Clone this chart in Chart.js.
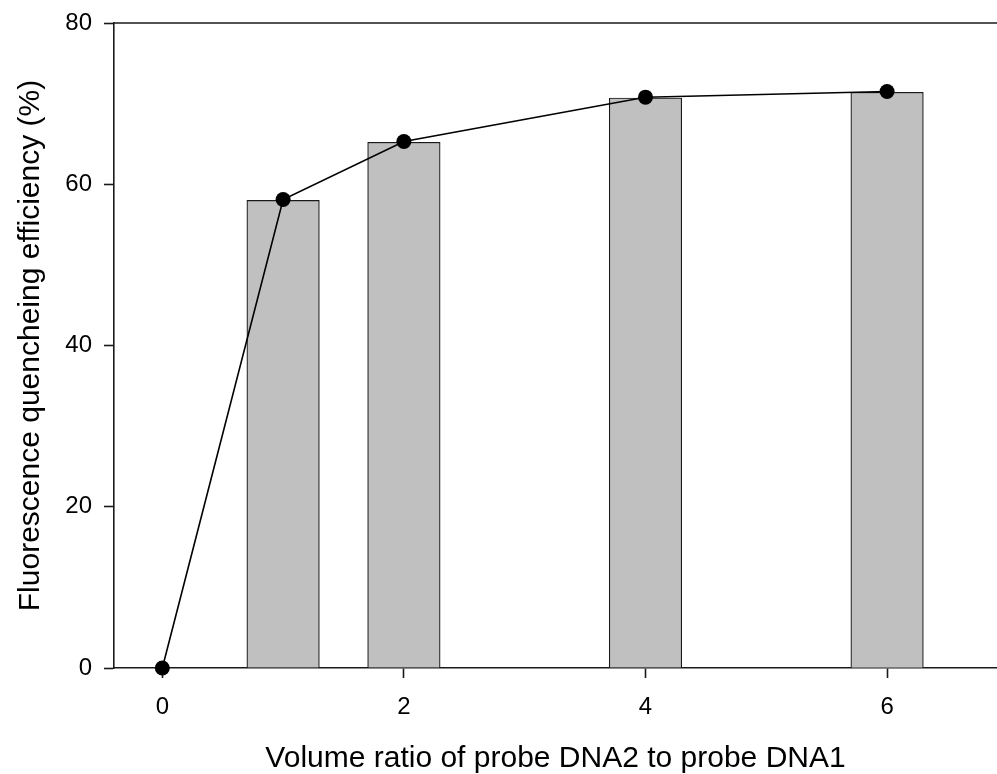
<!DOCTYPE html>
<html>
<head>
<meta charset="utf-8">
<script src="https://cdn.jsdelivr.net/npm/chart.js@4/dist/chart.umd.min.js"></script>
<style>
  body { margin: 0; background: #fff; }
  #wrap { width: 997px; height: 774px; }
</style>
</head>
<body>
<div id="wrap"><canvas id="myChart" width="997" height="774"></canvas></div>
<script>
// dati
const barRatios = [1, 2, 4, 6];
const barValues = [58.0, 65.2, 70.7, 71.4];
const lineRatios = [0, 1, 2, 4, 6];
const lineValues = [0, 58.1, 65.3, 70.8, 71.5];
const xTicks = [0, 2, 4, 6];
const yTicks = [0, 20, 40, 60, 80];

const fontFamily = "'Liberation Sans', Arial, sans-serif";

// linea superiore del riquadro
const frameTop = {
  id: "frameTop",
  afterDraw(chart) {
    const { ctx, chartArea } = chart;
    ctx.save();
    ctx.strokeStyle = "#1a1a1a";
    ctx.lineWidth = 1.6;
    ctx.beginPath();
    ctx.moveTo(chartArea.left, chartArea.top);
    ctx.lineTo(chartArea.right, chartArea.top);
    ctx.stroke();
    ctx.restore();
  },
};

const config = {
  data: {
    datasets: [
      {
        type: "line",
        data: lineRatios.map((x, i) => ({ x: x, y: lineValues[i] })),
        borderColor: "#000",
        borderWidth: 1.6,
        pointRadius: 7.5,
        pointBackgroundColor: "#000",
        pointBorderColor: "#000",
        pointBorderWidth: 0,
        tension: 0,
        clip: false,
        order: 0,
      },
      {
        type: "bar",
        data: barRatios.map((x, i) => ({ x: x, y: barValues[i] })),
        backgroundColor: "#c0c0c0",
        borderColor: "#1a1a1a",
        borderWidth: 1.2,
        barThickness: 72.5,
        order: 1,
      },
    ],
  },
  options: {
    responsive: false,
    animation: false,
    events: [],
    layout: { autoPadding: false, padding: { top: 23, right: 0, left: 0, bottom: 0 } },
    plugins: {
      legend: { display: false },
      tooltip: { enabled: false },
    },
    scales: {
      x: {
        type: "linear",
        offset: false,
        min: -0.4,
        max: 6.91,
        afterBuildTicks: (scale) => {
          scale.ticks = xTicks.map((v) => ({ value: v }));
        },
        afterFit: (scale) => {
          scale.height = 106;
          scale.paddingLeft = 0;
          scale.paddingRight = 0;
        },
        grid: {
          display: true,
          offset: false,
          drawOnChartArea: false,
          drawTicks: true,
          tickLength: 10,
          tickColor: "#1a1a1a",
          tickWidth: 1.6,
        },
        border: { display: true, color: "#1a1a1a", width: 1.6 },
        ticks: {
          color: "#000",
          padding: 15,
          maxRotation: 0,
          font: { family: fontFamily, size: 24 },
        },
        title: {
          display: true,
          text: "Volume ratio of probe DNA2 to probe DNA1",
          color: "#000",
          padding: { top: 0, bottom: -3 },
          font: { family: fontFamily, size: 30 },
        },
      },
      y: {
        type: "linear",
        min: 0,
        max: 80,
        afterBuildTicks: (scale) => {
          scale.ticks = yTicks.map((v) => ({ value: v }));
        },
        afterFit: (scale) => {
          scale.width = 114;
          scale.paddingTop = 0;
          scale.paddingBottom = 0;
        },
        grid: {
          display: true,
          drawOnChartArea: false,
          drawTicks: true,
          tickLength: 10,
          tickColor: "#1a1a1a",
          tickWidth: 1.6,
        },
        border: { display: true, color: "#1a1a1a", width: 1.6 },
        ticks: {
          color: "#000",
          padding: 12,
          font: { family: fontFamily, size: 24 },
        },
        title: {
          display: true,
          text: "Fluorescence quencheing efficiency (%)",
          color: "#000",
          padding: { top: 13, bottom: 0 },
          font: { family: fontFamily, size: 30 },
        },
      },
    },
  },
  plugins: [frameTop],
};

const myChart = new Chart(document.getElementById("myChart"), config);
</script>
</body>
</html>
